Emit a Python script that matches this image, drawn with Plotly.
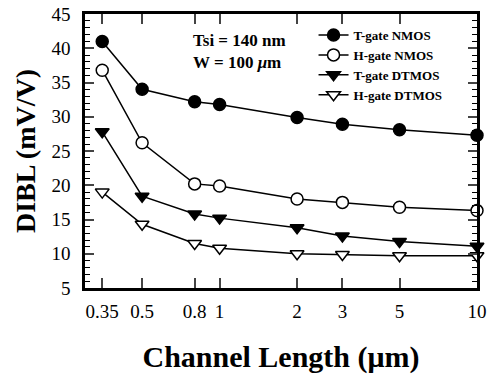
import plotly.graph_objects as go
import numpy as np

channel_length = [0.35, 0.5, 0.8, 1, 2, 3, 5, 10]
x_tick_labels = ["0.35", "0.5", "0.8", "1", "2", "3", "5", "10"]
tgate_nmos = [41.0, 34.0, 32.2, 31.8, 29.9, 28.9, 28.1, 27.3]
hgate_nmos = [36.8, 26.2, 20.2, 19.9, 18.0, 17.5, 16.8, 16.3]
tgate_dtmos = [27.8, 18.4, 15.8, 15.2, 13.8, 12.6, 11.8, 11.1]
hgate_dtmos = [19.0, 14.3, 11.5, 10.8, 10.0, 9.9, 9.7, 9.7]

series = [
    ("T-gate NMOS", tgate_nmos, "circle", "black"),
    ("H-gate NMOS", hgate_nmos, "circle", "white"),
    ("T-gate DTMOS", tgate_dtmos, "triangle-down", "black"),
    ("H-gate DTMOS", hgate_dtmos, "triangle-down", "white"),
]

FONT = "Liberation Serif"

fig = go.Figure()
for name, ys, sym, fill in series:
    fig.add_trace(go.Scatter(
        x=channel_length, y=ys, name=name, mode="lines+markers",
        line=dict(color="black", width=1.5),
        marker=dict(symbol=sym, size=12, color=fill,
                    line=dict(color="black", width=1.5)),
        cliponaxis=False,
    ))

fig.update_layout(
    width=490, height=376,
    margin=dict(l=85, r=13, t=14, b=88),
    paper_bgcolor="white", plot_bgcolor="white",
    font=dict(family=FONT, color="black", size=16),
    showlegend=True,
    legend=dict(
        x=0.583, y=0.978, xanchor="left", yanchor="top",
        bgcolor="rgba(0,0,0,0)", borderwidth=0,
        font=dict(family=FONT, size=13, weight="bold"),
        tracegroupgap=0, itemwidth=30,
    ),
    xaxis=dict(
        type="log", range=[np.log10(0.3), 1.0], automargin=False,
        tickvals=channel_length, ticktext=x_tick_labels,
        ticks="inside", ticklen=10, tickwidth=1.5,
        showline=True, linecolor="black", linewidth=2.5, mirror="allticks",
        showgrid=False, zeroline=False, ticklabelstandoff=4,
        tickfont=dict(family=FONT, size=19),
        title=dict(text="Channel Length (μm)", standoff=26,
                   font=dict(family=FONT, size=30, weight="bold")),
    ),
    yaxis=dict(
        range=[5, 45], dtick=5, tick0=5, automargin=False,
        ticks="inside", ticklen=9, tickwidth=1.5,
        showline=True, linecolor="black", linewidth=2.5, mirror="allticks",
        showgrid=False, zeroline=False, ticklabelstandoff=8,
        minor=dict(dtick=1, ticks="inside", ticklen=5, tickwidth=1, tickcolor="black"),
        tickfont=dict(family=FONT, size=19),
        title=dict(text="DIBL (mV/V)", standoff=8,
                   font=dict(family=FONT, size=28, weight="bold")),
    ),
    annotations=[
        dict(text="Tsi = 140 nm<br>W = 100 <i>μ</i>m", xref="paper", yref="paper",
             x=0.27, y=0.863, xanchor="left", yanchor="middle", align="left",
             showarrow=False,
             font=dict(family=FONT, size=17, weight="bold")),
    ],
)

fig.write_html("out.html", config={"displayModeBar": False},
               post_script="document.body.style.margin='0';")
